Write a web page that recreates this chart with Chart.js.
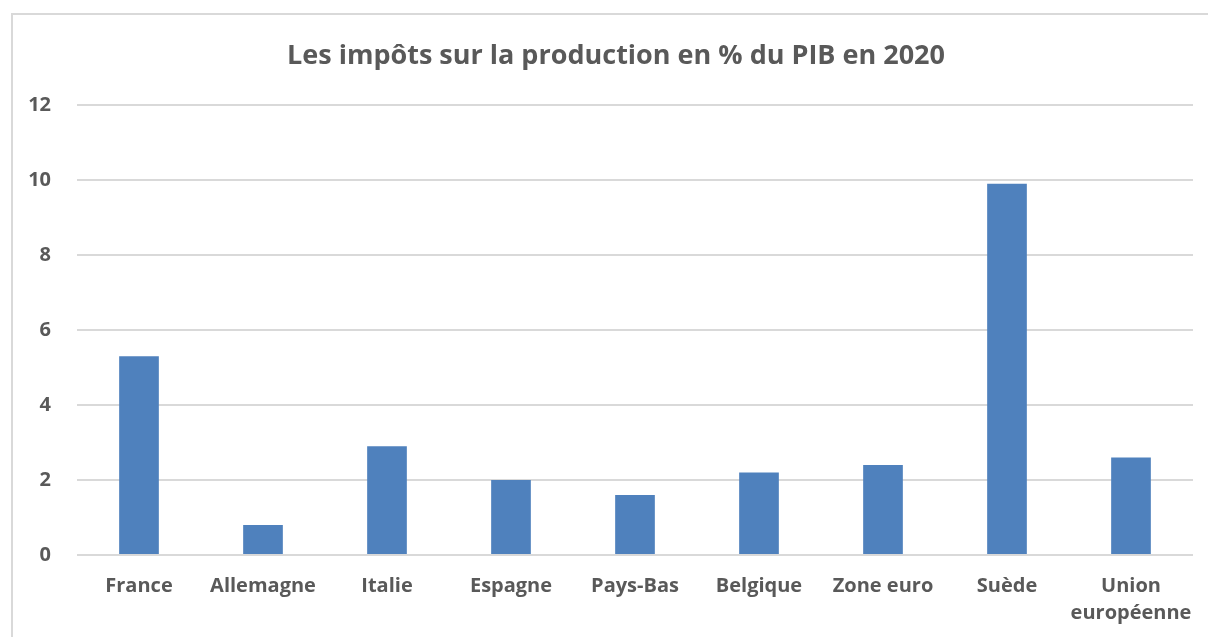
<!DOCTYPE html>
<html><head><meta charset="utf-8">
<script src="https://cdn.jsdelivr.net/npm/chart.js@4"></script>
<style>html,body{margin:0;padding:0;background:#fff}#wrap{width:1208px;height:637px;position:relative}</style>
</head><body><div id="wrap"><canvas id="c" width="1208" height="637"></canvas></div>
<script>
const titleText = "Les impôts sur la production en % du PIB en 2020";
const categories = ["France","Allemagne","Italie","Espagne","Pays-Bas","Belgique","Zone euro","Suède",["Union","européenne"]];
const values = [5.3,0.8,2.9,2.0,1.6,2.2,2.4,9.9,2.6];
const yTicks = [0,2,4,6,8,10,12];

const FONT = "'Open Sans'";
const TXT = "#595959";

const frame = {
  id:'frame',
  beforeDraw(chart){
    const ctx = chart.ctx;
    ctx.save();
    ctx.fillStyle='#fff';ctx.fillRect(0,0,chart.width,chart.height);
    ctx.strokeStyle='#d9d9d9';ctx.lineWidth=2;
    ctx.strokeRect(12,14,1400,800);
    ctx.restore();
  },
  afterDraw(chart){
    const ctx = chart.ctx;
    ctx.save();
    ctx.fillStyle=TXT;
    ctx.font = "bold 27px " + FONT;
    ctx.textAlign='center';ctx.textBaseline='middle';
    ctx.fillText(titleText, 616, 56);
    ctx.restore();
  }
};

new Chart(document.getElementById('c'),{
  type:'bar',
  data:{labels:categories,datasets:[{data:values,backgroundColor:'#4f81bd',borderWidth:0,categoryPercentage:1,barPercentage:0.32}]},
  options:{
    responsive:false,animation:false,
    layout:{padding:{top:105,right:15,left:0,bottom:0}},
    plugins:{legend:{display:false},tooltip:{enabled:false},title:{display:false}},
    scales:{
      x:{grid:{display:false},border:{display:false},
         ticks:{color:TXT,font:{family:FONT,size:20,weight:'bold',lineHeight:1.35},padding:10,maxRotation:0,autoSkip:false},
         afterFit(s){s.height=82;}},
      y:{min:0,max:12,afterBuildTicks(s){s.ticks=yTicks.map(v=>({value:v}));},
         grid:{color:'#d9d9d9',lineWidth:2,drawTicks:false},border:{display:false},
         ticks:{color:TXT,font:{family:FONT,size:20,weight:'bold'},padding:26},
         afterFit(s){s.width=77;}}
    }
  },
  plugins:[frame]
});
</script></body></html>
